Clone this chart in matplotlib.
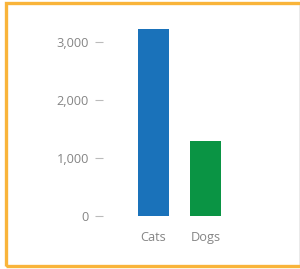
import matplotlib
matplotlib.use("Agg")
import matplotlib.pyplot as plt
from matplotlib.patches import Rectangle
from matplotlib.ticker import FuncFormatter

categories = ["Cats", "Dogs"]
values = [3220, 1290]
bar_colors = ["#1a72ba", "#0a9444"]
yticks = [0, 1000, 2000, 3000]

W, H = 300, 269
fig = plt.figure(figsize=(W / 100, H / 100), dpi=100)
plt.rcParams['font.family'] = ['Open Sans', 'DejaVu Sans']

left, right, bottom, top = 103, 262, 216, 24.6
ax = fig.add_axes([left / W, 1 - bottom / H, (right - left) / W, (bottom - top) / H])
x = list(range(len(categories)))
ax.bar(x, values, width=0.6, color=bar_colors, edgecolor="none")
ax.set_xlim(-0.97, 1 + (right - 205.5) / 52)
ax.set_ylim(0, 3300)
ax.set_yticks(yticks)
ax.yaxis.set_major_formatter(FuncFormatter(lambda v, p: f"{int(v):,}"))
ax.set_xticks(x)
ax.set_xticklabels(categories)
for s in ax.spines.values():
    s.set_visible(False)
ax.tick_params(axis="y", length=5.8, width=0.8, color="#bbbbbb", pad=4.3,
               labelsize=9.2, labelcolor="#858585")
ax.tick_params(axis="x", length=0, pad=10.5, labelsize=9.2, labelcolor="#858585")

fig.patches.append(Rectangle((5.5 / W, 1 - 266 / H), (W + 5) / W, (266 - 3) / H,
                             transform=fig.transFigure, fill=False,
                             edgecolor="#f9b43a", linewidth=2.4, zorder=10))
fig.patches.append(Rectangle((298.5 / W, 1 - 264.5 / H), 0.01, (264.5 - 5) / H,
                             transform=fig.transFigure, fill=False,
                             edgecolor="#e6e6e6", linewidth=0.6, zorder=9))
fig.savefig("out.png", dpi=100)
